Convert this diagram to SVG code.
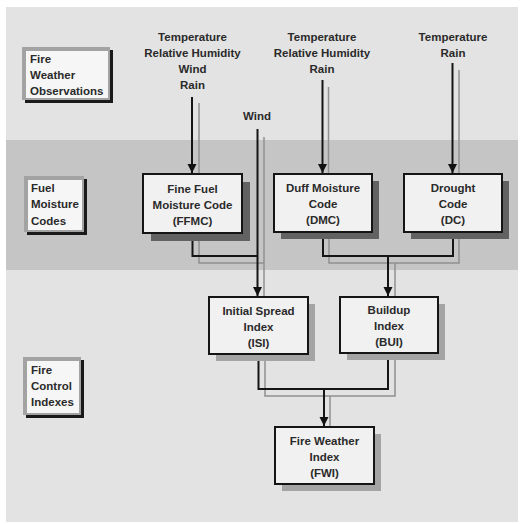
<svg xmlns="http://www.w3.org/2000/svg" width="521" height="524" viewBox="0 0 521 524">
  <defs>
    <marker id="arrow" markerUnits="userSpaceOnUse" markerWidth="10" markerHeight="10" refX="9" refY="5" orient="auto">
      <path d="M0,0.5 L9,5 L0,9.5 Z" fill="#111"/>
    </marker>
  </defs>
  <style>
    text { font-family: "Liberation Sans", Arial, sans-serif; font-weight: bold; font-size: 11.5px; fill: #2a2a2a; }
    .c { text-anchor: middle; }
    .box { fill: #f1f1f1; stroke: #151515; stroke-width: 2; }
    .shadow-dark { fill: #626262; }
    .shadow-light { fill: #a4a4a4; }
    .line { fill: none; stroke: #151515; stroke-width: 2; }
    .line-shadow { fill: none; stroke: #909090; stroke-width: 1.5; }
    .tag-frame { fill: #a3a3a3; }
    .tag-edge { fill: #1a1a1a; }
    .tag-face { fill: #f6f6f6; }
  </style>

  <!-- background panel and fuel-moisture band -->
  <rect x="0" y="0" width="521" height="524" fill="#ffffff"/>
  <rect x="6" y="7" width="512" height="515" fill="#e3e3e3"/>
  <rect x="6" y="140" width="512" height="130" fill="#c5c5c5"/>

  <!-- row tags -->
  <g id="tag-observations">
    <rect class="tag-edge" x="25" y="50" width="88" height="53"/>
    <rect class="tag-frame" x="22" y="47" width="88" height="53"/>
    <rect class="tag-face" x="26" y="51" width="82" height="47"/>
    <text x="30" y="63">Fire</text>
    <text x="30" y="79">Weather</text>
    <text x="30" y="95">Observations</text>
  </g>
  <g id="tag-fuel">
    <rect class="tag-edge" x="27" y="179" width="60" height="56"/>
    <rect class="tag-frame" x="24" y="176" width="60" height="56"/>
    <rect class="tag-face" x="28" y="180" width="54" height="50"/>
    <text x="31" y="192">Fuel</text>
    <text x="31" y="208">Moisture</text>
    <text x="31" y="225">Codes</text>
  </g>
  <g id="tag-control">
    <rect class="tag-edge" x="26" y="360" width="58" height="58"/>
    <rect class="tag-frame" x="23" y="357" width="58" height="58"/>
    <rect class="tag-face" x="27" y="361" width="52" height="52"/>
    <text x="31" y="374">Fire</text>
    <text x="31" y="390">Control</text>
    <text x="31" y="406">Indexes</text>
  </g>

  <!-- weather inputs -->
  <g id="input-ffmc">
    <text class="c" x="192.5" y="41">Temperature</text>
    <text class="c" x="192.5" y="57">Relative Humidity</text>
    <text class="c" x="192.5" y="73">Wind</text>
    <text class="c" x="192.5" y="89">Rain</text>
  </g>
  <g id="input-dmc">
    <text class="c" x="322" y="41">Temperature</text>
    <text class="c" x="322" y="57">Relative Humidity</text>
    <text class="c" x="322" y="73">Rain</text>
  </g>
  <g id="input-dc">
    <text class="c" x="453" y="41">Temperature</text>
    <text class="c" x="453" y="57">Rain</text>
  </g>
  <g id="input-wind">
    <text class="c" x="257" y="120">Wind</text>
  </g>

  <!-- connectors: offset shadow strokes first, then the black strokes -->
  <g id="connectors">
    <path class="line-shadow" d="M199,103 V176"/>
    <path class="line-shadow" d="M328.5,87 V176"/>
    <path class="line-shadow" d="M459,70 V176"/>
    <path class="line-shadow" d="M264,137 V299"/>
    <path class="line-shadow" d="M199,236 V263 H264"/>
    <path class="line-shadow" d="M329,236 V263 H459 V236"/>
    <path class="line-shadow" d="M395,263 V299"/>
    <path class="line-shadow" d="M265,357 V396 H395 V357"/>
    <path class="line-shadow" d="M330,396 V428"/>

    <path class="line" d="M192,97 V173" marker-end="url(#arrow)"/>
    <path class="line" d="M322.5,80 V173" marker-end="url(#arrow)"/>
    <path class="line" d="M452.5,63 V173" marker-end="url(#arrow)"/>
    <path class="line" d="M257.5,129 V296" marker-end="url(#arrow)"/>
    <path class="line" d="M192.5,233 V256 H257.5"/>
    <path class="line" d="M323,232 V256 H453 V232"/>
    <path class="line" d="M388,256 V296" marker-end="url(#arrow)"/>
    <path class="line" d="M258.5,354 V389 H388 V353"/>
    <path class="line" d="M324,389 V426" marker-end="url(#arrow)"/>
  </g>

  <!-- moisture codes -->
  <g id="ffmc">
    <rect class="shadow-dark" x="151" y="182" width="99" height="59"/>
    <rect class="box" x="143" y="174" width="99" height="59"/>
    <text class="c" x="192.5" y="193">Fine Fuel</text>
    <text class="c" x="192.5" y="209">Moisture Code</text>
    <text class="c" x="192.5" y="225">(FFMC)</text>
  </g>
  <g id="dmc">
    <rect class="shadow-dark" x="281" y="181" width="98" height="58"/>
    <rect class="box" x="274" y="174" width="98" height="58"/>
    <text class="c" x="323" y="192">Duff Moisture</text>
    <text class="c" x="323" y="208">Code</text>
    <text class="c" x="323" y="224">(DMC)</text>
  </g>
  <g id="dc">
    <rect class="shadow-dark" x="411" y="181" width="98" height="58"/>
    <rect class="box" x="404" y="174" width="98" height="58"/>
    <text class="c" x="453" y="192">Drought</text>
    <text class="c" x="453" y="208">Code</text>
    <text class="c" x="453" y="224">(DC)</text>
  </g>

  <!-- fire behaviour indexes -->
  <g id="isi">
    <rect class="shadow-light" x="216" y="304" width="99" height="57"/>
    <rect class="box" x="209" y="297" width="99" height="57"/>
    <text class="c" x="258.5" y="315">Initial Spread</text>
    <text class="c" x="258.5" y="331">Index</text>
    <text class="c" x="258.5" y="347">(ISI)</text>
  </g>
  <g id="bui">
    <rect class="shadow-light" x="347" y="304" width="98" height="56"/>
    <rect class="box" x="340" y="297" width="98" height="56"/>
    <text class="c" x="389" y="314">Buildup</text>
    <text class="c" x="389" y="330">Index</text>
    <text class="c" x="389" y="346">(BUI)</text>
  </g>
  <g id="fwi">
    <rect class="shadow-light" x="282" y="434" width="99" height="57"/>
    <rect class="box" x="275" y="427" width="99" height="57"/>
    <text class="c" x="324.5" y="445">Fire Weather</text>
    <text class="c" x="324.5" y="461">Index</text>
    <text class="c" x="324.5" y="477">(FWI)</text>
  </g>
</svg>
